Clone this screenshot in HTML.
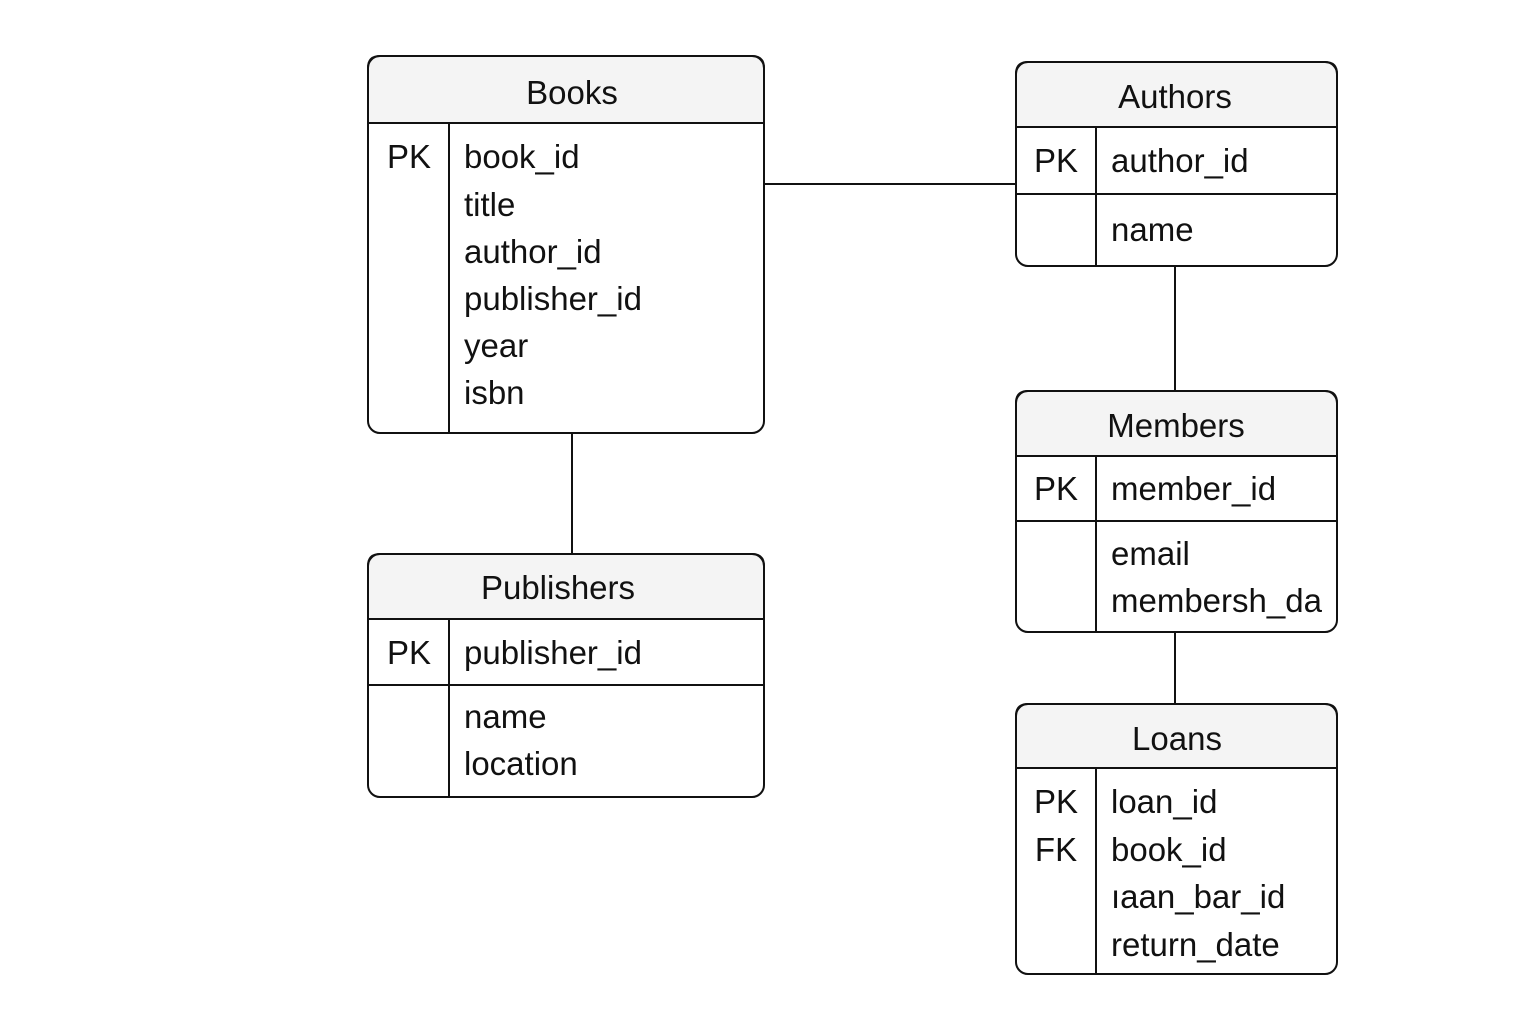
<!DOCTYPE html>
<html><head><meta charset="utf-8"><style>
html,body{margin:0;padding:0;background:#fff;}
svg{display:block;}
text{font-family:"Liberation Sans",sans-serif;font-size:33px;fill:#111;}
</style></head><body>
<svg width="1536" height="1024" viewBox="0 0 1536 1024" xmlns="http://www.w3.org/2000/svg">
<g stroke="#111" stroke-width="2" fill="none">
<line x1="764" y1="184" x2="1016" y2="184"/>
<line x1="1175" y1="266" x2="1175" y2="391"/>
<line x1="1175" y1="632" x2="1175" y2="704"/>
<line x1="572" y1="433" x2="572" y2="554"/>
</g>
<g stroke="#111" stroke-width="2">
<path d="M368,123 V68 Q368,56 380,56 H752 Q764,56 764,68 V123 Z" fill="#f4f4f4"/>
<rect x="368" y="56" width="396" height="377" rx="12" fill="none"/>
<line x1="368" y1="123" x2="764" y2="123"/>
<line x1="449" y1="123" x2="449" y2="433"/>
</g>
<text x="572" y="104" text-anchor="middle" font-size="35">Books</text>
<text x="409" y="168" text-anchor="middle">PK</text>
<text x="464" y="168">book_id</text>
<text x="464" y="216">title</text>
<text x="464" y="263">author_id</text>
<text x="464" y="310">publisher_id</text>
<text x="464" y="357">year</text>
<text x="464" y="404">isbn</text>
<g stroke="#111" stroke-width="2">
<path d="M1016,127 V74 Q1016,62 1028,62 H1325 Q1337,62 1337,74 V127 Z" fill="#f4f4f4"/>
<rect x="1016" y="62" width="321" height="204" rx="12" fill="none"/>
<line x1="1016" y1="127" x2="1337" y2="127"/>
<line x1="1016" y1="194" x2="1337" y2="194"/>
<line x1="1096" y1="127" x2="1096" y2="266"/>
</g>
<text x="1175" y="108" text-anchor="middle" font-size="35">Authors</text>
<text x="1056" y="172" text-anchor="middle">PK</text>
<text x="1111" y="172">author_id</text>
<text x="1111" y="241">name</text>
<g stroke="#111" stroke-width="2">
<path d="M1016,456 V403 Q1016,391 1028,391 H1325 Q1337,391 1337,403 V456 Z" fill="#f4f4f4"/>
<rect x="1016" y="391" width="321" height="241" rx="12" fill="none"/>
<line x1="1016" y1="456" x2="1337" y2="456"/>
<line x1="1016" y1="521" x2="1337" y2="521"/>
<line x1="1096" y1="456" x2="1096" y2="632"/>
</g>
<text x="1176" y="437" text-anchor="middle" font-size="35">Members</text>
<text x="1056" y="500" text-anchor="middle">PK</text>
<text x="1111" y="500">member_id</text>
<text x="1111" y="565">email</text>
<text x="1111" y="612">membersh_da</text>
<g stroke="#111" stroke-width="2">
<path d="M1016,768 V716 Q1016,704 1028,704 H1325 Q1337,704 1337,716 V768 Z" fill="#f4f4f4"/>
<rect x="1016" y="704" width="321" height="270" rx="12" fill="none"/>
<line x1="1016" y1="768" x2="1337" y2="768"/>
<line x1="1096" y1="768" x2="1096" y2="974"/>
</g>
<text x="1177" y="750" text-anchor="middle" font-size="34">Loans</text>
<text x="1056" y="813" text-anchor="middle">PK</text>
<text x="1056" y="861" text-anchor="middle">FK</text>
<text x="1111" y="813">loan_id</text>
<text x="1111" y="861">book_id</text>
<text x="1111" y="908">ıaan_bar_id</text>
<text x="1111" y="956">return_date</text>
<g stroke="#111" stroke-width="2">
<path d="M368,619 V566 Q368,554 380,554 H752 Q764,554 764,566 V619 Z" fill="#f4f4f4"/>
<rect x="368" y="554" width="396" height="243" rx="12" fill="none"/>
<line x1="368" y1="619" x2="764" y2="619"/>
<line x1="368" y1="685" x2="764" y2="685"/>
<line x1="449" y1="619" x2="449" y2="797"/>
</g>
<text x="558" y="599" text-anchor="middle" font-size="35">Publishers</text>
<text x="409" y="664" text-anchor="middle">PK</text>
<text x="464" y="664">publisher_id</text>
<text x="464" y="728">name</text>
<text x="464" y="775">location</text>
</svg>
</body></html>
